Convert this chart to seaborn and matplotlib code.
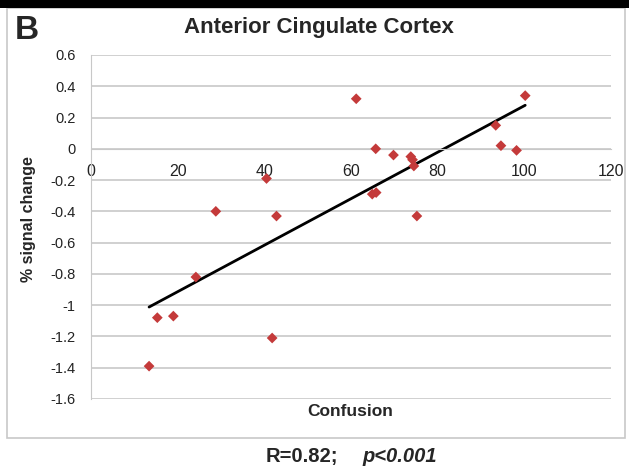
import numpy as np
import pandas as pd
import seaborn as sns
import matplotlib.pyplot as plt
from matplotlib.patches import Rectangle

# values
confusion = [13.4, 15.3, 19.0, 24.2, 28.8, 40.5, 41.8, 42.8,
             61.2, 64.9, 65.7, 65.8, 69.8, 73.8, 74.2, 74.5, 75.2,
             93.4, 94.6, 98.2, 100.2]
signal = [-1.39, -1.08, -1.07, -0.82, -0.40, -0.19, -1.21, -0.43,
          0.32, -0.29, 0.00, -0.28, -0.04, -0.05, -0.07, -0.11, -0.43,
          0.15, 0.02, -0.01, 0.34]
xticks = [0, 20, 40, 60, 80, 100, 120]
yticks = [0.6, 0.4, 0.2, 0, -0.2, -0.4, -0.6, -0.8, -1, -1.2, -1.4, -1.6]

df = pd.DataFrame({'confusion': confusion, 'signal': signal})

sns.set_style('white')
plt.rcParams['font.family'] = ['Liberation Sans', 'DejaVu Sans']

fig = plt.figure(figsize=(6.29, 4.72), dpi=100)
ax = fig.add_axes([0.1447, 0.1547, 0.8267, 0.7288])

# frame and black top bar
fig.patches.append(Rectangle((0.011, 0.072), 0.983, 0.911, transform=fig.transFigure,
                             fill=False, edgecolor='#c8c8c8', linewidth=1.2))
fig.patches.append(Rectangle((0, 0.983), 1, 0.017, transform=fig.transFigure,
                             facecolor='black', edgecolor='none'))

sns.regplot(data=df, x='confusion', y='signal', ci=None, scatter=False, ax=ax,
            line_kws={'color': 'black', 'linewidth': 2})
sns.scatterplot(data=df, x='confusion', y='signal', ax=ax, marker='D', s=30,
                color='#c43a3a', edgecolor='none', zorder=3)

ax.set_xlim(0, 120)
ax.set_ylim(-1.6, 0.6)
ax.set_xticks(xticks)
ax.set_yticks(yticks)
ax.set_yticklabels([f'{v:g}' for v in yticks])
ax.yaxis.grid(True, color='#c8c8c8', linewidth=1.2)
ax.set_axisbelow(True)

for s in ['top', 'right']:
    ax.spines[s].set_visible(False)
ax.spines['left'].set_color('#c8c8c8')
ax.spines['bottom'].set_position(('data', 0))
ax.spines['bottom'].set_color('#c8c8c8')
ax.tick_params(axis='both', length=0, colors='#222222')
ax.tick_params(axis='x', pad=11, labelsize=11.5)
ax.tick_params(axis='y', pad=11, labelsize=10.5)

ax.set_xlabel('')
ax.set_ylabel('')
fig.text(0.557, 0.128, 'Confusion', ha='center', va='center',
         fontsize=12.5, fontweight='bold')
fig.text(0.046, 0.535, '% signal change', ha='center', va='center',
         rotation=90, fontsize=11.5, fontweight='bold')
fig.text(0.507, 0.942, 'Anterior Cingulate Cortex', ha='center', va='center',
         fontsize=16, fontweight='bold')
fig.text(0.024, 0.935, 'B', ha='left', va='center', fontsize=24, fontweight='bold')
fig.text(0.538, 0.033, 'R=0.82;', ha='right', va='center',
         fontsize=14.5, fontweight='bold')
fig.text(0.576, 0.033, 'p<0.001', ha='left', va='center',
         fontsize=14.5, fontweight='bold', fontstyle='italic')

fig.savefig('out.png', dpi=100)
